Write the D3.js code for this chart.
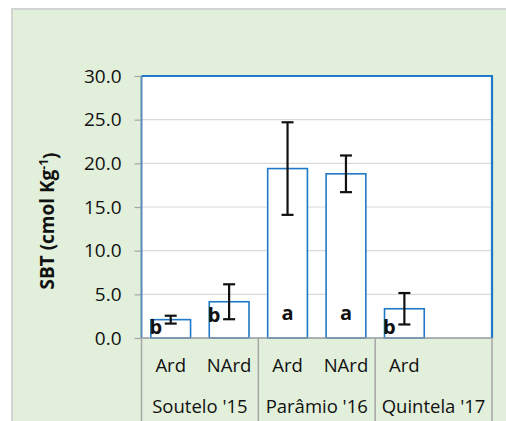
<!DOCTYPE html>
<html>
<head>
<meta charset="utf-8">
<script src="https://cdn.jsdelivr.net/npm/d3@7"></script>
<style>
  body { margin: 0; background: #fff; }
  svg text { font-family: "Open Sans", sans-serif; fill: #111; }
</style>
</head>
<body>
<svg id="chart" width="506" height="421"></svg>
<script>
// data
var slots = ["S-Ard", "S-NArd", "P-Ard", "P-NArd", "Q-Ard", "Q-NArd"];
var treatments = ["Ard", "NArd", "Ard", "NArd", "Ard", ""];
var groups = ["Soutelo '15", "Parâmio '16", "Quintela '17"];
var means = [2.1, 4.15, 19.4, 18.8, 3.35, null];
var errors = [0.45, 2.0, 5.3, 2.1, 1.8, null];
var letters = ["b", "b", "a", "a", "b", ""];
var yTicks = [0, 5, 10, 15, 20, 25, 30];

var svg = d3.select("#chart");
var m = { left: 141.5, right: 492, top: 76, bottom: 338 };

// green panel with grey edge
svg.append("rect").attr("x", 12).attr("y", 9).attr("width", 500).attr("height", 420)
    .attr("fill", "#e2efda").attr("stroke", "#d4d4d4").attr("stroke-width", 2);

var x = d3.scaleBand().domain(slots).range([m.left, m.right]).paddingInner(0.32).paddingOuter(0.16);
var y = d3.scaleLinear().domain([0, 30]).range([m.bottom, m.top]);

// plot area
svg.append("rect").attr("x", m.left).attr("y", m.top)
    .attr("width", m.right - m.left).attr("height", m.bottom - m.top).attr("fill", "#fff");

// gridlines
svg.append("g").selectAll("line").data(yTicks.slice(1)).join("line")
    .attr("x1", m.left).attr("x2", m.right)
    .attr("y1", d => y(d)).attr("y2", d => y(d))
    .attr("stroke", "#d9d9d9").attr("stroke-width", 1.2);

// y axis
var ya = svg.append("g").attr("transform", "translate(" + m.left + ",0)")
    .call(d3.axisLeft(y).tickValues(yTicks).tickFormat(d3.format(".1f")).tickSize(7).tickPadding(13));
ya.select(".domain").remove();
ya.selectAll(".tick line").attr("stroke", "#a6a6a6").attr("stroke-width", 1.2);
ya.selectAll("text").attr("font-size", 19).attr("fill", "#111");

// bars
svg.append("g").selectAll("rect").data(slots.filter((d, i) => means[i] != null)).join("rect")
    .attr("x", d => x(d)).attr("width", x.bandwidth())
    .attr("y", (d, i) => y(means[i])).attr("height", (d, i) => y(0) - y(means[i]))
    .attr("fill", "#fff").attr("stroke", "#1f78c8").attr("stroke-width", 1.6);

// error bars
var eb = svg.append("g").attr("stroke", "#111").attr("stroke-width", 2.2);
slots.forEach(function (s, i) {
  if (means[i] == null) return;
  var cx = x(s) + x.bandwidth() / 2;
  var hi = y(means[i] + errors[i]), lo = y(means[i] - errors[i]);
  eb.append("line").attr("x1", cx).attr("x2", cx).attr("y1", hi).attr("y2", lo);
  eb.append("line").attr("x1", cx - 6).attr("x2", cx + 6).attr("y1", hi).attr("y2", hi);
  eb.append("line").attr("x1", cx - 6).attr("x2", cx + 6).attr("y1", lo).attr("y2", lo);
});

// significance letters
var letterDx = [-15, -15, 0, 0, -15, 0];
var letterY = [1.25, 2.6, 2.85, 2.85, 1.25, 0];
svg.append("g").selectAll("text").data(slots).join("text")
    .attr("x", (d, i) => x(d) + x.bandwidth() / 2 + letterDx[i])
    .attr("y", (d, i) => y(letterY[i]))
    .attr("dy", "0.35em").attr("text-anchor", "middle")
    .attr("font-size", 20).attr("font-weight", "bold")
    .text((d, i) => letters[i]);

// plot border: blue top/right, grey-blue left, grey bottom
var border = svg.append("g").attr("fill", "none");
border.append("path").attr("d", "M" + m.left + "," + m.top + "H" + m.right + "V" + m.bottom)
    .attr("stroke", "#1f78c8").attr("stroke-width", 2.2);
border.append("line").attr("x1", m.left).attr("x2", m.left).attr("y1", m.top).attr("y2", m.bottom)
    .attr("stroke", "#5a8ab8").attr("stroke-width", 2);
border.append("line").attr("x1", m.left).attr("x2", m.right).attr("y1", m.bottom).attr("y2", m.bottom)
    .attr("stroke", "#8f9aa5").attr("stroke-width", 1.6);

// category axis with group dividers
var step = x.step();
var dividers = [0, 2, 4, 6].map(k => m.left + k * step);
svg.append("g").selectAll("line").data(dividers).join("line")
    .attr("x1", d => d).attr("x2", d => d).attr("y1", m.bottom).attr("y2", 421)
    .attr("stroke", "#a6a6a6").attr("stroke-width", 1.5);

svg.append("g").selectAll("text").data(slots).join("text")
    .attr("x", d => x(d) + x.bandwidth() / 2).attr("y", 366)
    .attr("dy", "0.35em").attr("text-anchor", "middle").attr("font-size", 18.5)
    .text((d, i) => treatments[i]);

svg.append("g").selectAll("text").data(groups).join("text")
    .attr("x", (d, i) => m.left + (2 * i + 1) * step).attr("y", 407)
    .attr("dy", "0.35em").attr("text-anchor", "middle").attr("font-size", 18.5)
    .text(d => d);

// y axis title
var title = svg.append("text").attr("transform", "translate(47,221) rotate(-90)")
    .attr("text-anchor", "middle").attr("dy", "0.35em")
    .attr("font-size", 19).attr("font-weight", "bold");
title.append("tspan").text("SBT (cmol Kg");
title.append("tspan").attr("dy", "-0.45em").attr("font-size", 12).text("-1");
title.append("tspan").attr("dy", "0.45em").text(")");
</script>
</body>
</html>
